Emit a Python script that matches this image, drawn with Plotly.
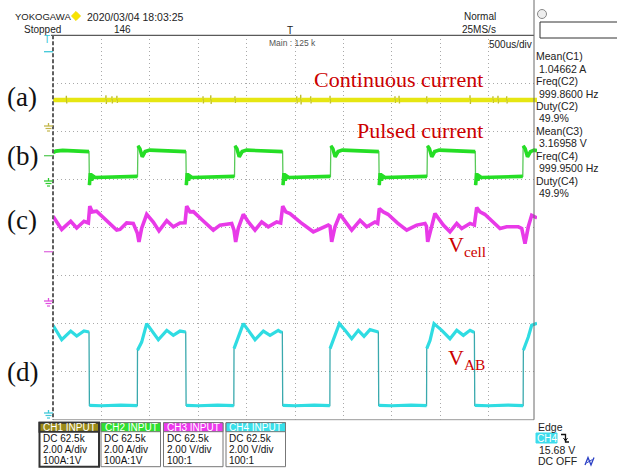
import plotly.graph_objects as go

W, H = 617, 469

# ---------------- acquisition / display settings ----------------
T_START_US, T_END_US = -2500, 2500      # 500 us/div, 10 divisions
TIME_PER_DIV_US = 500
V_DIVS = 8

CH_SCALE = [2.0, 2.0, 2.0, 2.0]                 # A/div, A/div, V/div, V/div
CH_GROUND_DIV = [2.13, 1.04, -1.45, -3.72]      # ground level, divisions from screen centre
CH_COLOR = ["#e6e612", "#25de25", "#e83ae8", "#2fdce2"]
CH_EDGE_COLOR = ["#bdbd30", "#58c958", "#e070e0", "#3aa9ad"]
CH_WIDTH = [4.5, 3.6, 3.6, 3.2]
CH_EDGE_JUMP_DIV = [0.05, 0.45, 0.45, 0.45]     # steps steeper than this are drawn thin

# ---------------- CH1: continuous current (A) ----------------
CH1_T = [-2500,
         -2365, -2362, -2358, -2355,
         -1956, -1953, -1949, -1946,
         -1894, -1891, -1887, -1884,
         -1843, -1840, -1836, -1833,
         -953, -950, -946, -943,
         -873, -870, -866, -863,
         -623, -620, -616, -613,
         15, 18, 22, 25,
         56, 59, 63, 66,
         159, 162, 166, 169,
         359, 362, 366, 369,
         1030, 1033, 1037, 1040,
         1072, 1075, 1079, 1082,
         1358, 1361, 1365, 1368,
         1805, 1808, 1812, 1815,
         2042, 2045, 2049, 2052,
         2094, 2097, 2101, 2104,
         2184, 2187, 2191, 2194,
         2500]
CH1_A = [1.05,
         1.05, 1.22, 0.9, 1.05,
         1.05, 1.24, 0.88, 1.05,
         1.05, 1.2, 0.9, 1.05,
         1.05, 1.22, 0.92, 1.05,
         1.05, 1.2, 0.9, 1.05,
         1.05, 1.24, 0.88, 1.05,
         1.05, 1.2, 0.92, 1.05,
         1.05, 1.2, 0.9, 1.05,
         1.05, 1.26, 0.86, 1.05,
         1.05, 1.2, 0.9, 1.05,
         1.05, 1.22, 0.9, 1.05,
         1.05, 1.2, 0.92, 1.05,
         1.05, 1.22, 0.9, 1.05,
         1.05, 1.2, 0.9, 1.05,
         1.05, 1.24, 0.88, 1.05,
         1.05, 1.2, 0.92, 1.05,
         1.05, 1.22, 0.9, 1.05,
         1.05, 1.2, 0.9, 1.05,
         1.05]

# ---------------- CH2: pulsed current (A) ----------------
CH2_T = [-2500, -2470, -2400, -2300, -2200, -2140, -2128, -2124, -2114, -2101, -2086, -2065,
         -1900, -1750, -1630, -1627,
         -1623, -1602, -1578, -1548, -1500, -1400, -1250, -1140, -1127, -1123, -1113, -1100,
         -1085, -1064, -900, -750, -628, -625,
         -621, -600, -576, -546, -500, -400, -250, -140, -128, -124, -114, -101, -86, -65,
         100, 250, 363, 366,
         370, 391, 415, 445, 490, 600, 750, 854, 866, 870, 880, 893, 908, 929,
         1100, 1250, 1361, 1364,
         1368, 1389, 1413, 1443, 1490, 1600, 1750, 1850, 1862, 1866, 1876, 1889, 1904, 1925,
         2100, 2250, 2350, 2353,
         2357, 2378, 2402, 2432, 2470, 2500]
CH2_A = [1.04, 1.1, 1.13, 1.11, 1.12, 1.08, 1.08, -0.32, 0.18, -0.12, 0.06, 0.0,
         0.01, 0.03, 0.05, 0.05,
         1.32, 1.2, 0.86, 1.08, 1.14, 1.12, 1.11, 1.09, 1.08, -0.32, 0.18, -0.12,
         0.06, 0.0, 0.01, 0.03, 0.05, 0.05,
         1.32, 1.2, 0.86, 1.08, 1.14, 1.12, 1.11, 1.09, 1.08, -0.32, 0.18, -0.12, 0.06, 0.0,
         0.01, 0.03, 0.05, 0.05,
         1.32, 1.2, 0.86, 1.08, 1.14, 1.12, 1.11, 1.09, 1.08, -0.32, 0.18, -0.12, 0.06, 0.0,
         0.01, 0.03, 0.05, 0.05,
         1.32, 1.2, 0.86, 1.08, 1.14, 1.12, 1.11, 1.09, 1.08, -0.32, 0.18, -0.12, 0.06, 0.0,
         0.01, 0.03, 0.05, 0.05,
         1.32, 1.2, 0.86, 1.08, 1.14, 1.12]

# ---------------- CH3: cell voltage (V) ----------------
CH3_T = [-2500, -2410, -2317, -2255, -2180, -2135, -2120, -2095, -2050, -1950, -1842, -1808,
         -1739, -1671, -1629, -1612, -1584, -1532, -1464, -1405, -1325, -1257, -1188, -1136,
         -1119, -1085, -1050, -950, -844, -775, -654, -630, -613, -586, -534, -482, -413,
         -344, -276, -189, -148, -127, -95, -52, 60, 189, 258, 344, 362, 379, 413, 465, 534,
         586, 672, 741, 826, 854, 871, 912, 960, 1060, 1154, 1257, 1343, 1358, 1371, 1412,
         1446, 1532, 1601, 1671, 1722, 1808, 1853, 1877, 1911, 1960, 2050, 2118, 2187, 2307,
         2342, 2376, 2410, 2445, 2500]
CH3_V = [3.37, 2.82, 3.16, 2.88, 3.16, 3.09, 3.79, 3.55, 3.58, 3.2, 2.79, 2.82,
         3.09, 3.07, 2.67, 2.3, 2.87, 3.45, 3.13, 2.76, 3.18, 2.93, 3.09, 3.1,
         3.79, 3.55, 3.56, 3.18, 2.79, 3.0, 3.07, 2.79, 2.3, 2.87, 3.45, 3.13, 2.79,
         3.13, 2.93, 3.13, 3.09, 3.79, 3.55, 3.48, 3.1, 2.72, 2.86, 3.0, 2.95, 2.3, 2.93, 3.45, 3.07,
         2.79, 3.2, 2.93, 3.13, 3.07, 3.69, 3.55, 3.45, 3.08, 2.79, 3.0, 3.07, 2.95, 2.3, 2.93,
         3.48, 3.0, 2.72, 3.07, 2.86, 3.07, 3.0, 3.73, 3.55, 3.45, 3.1, 2.86, 2.93, 2.93,
         2.86, 2.23, 2.93, 3.41, 3.3]

# ---------------- CH4: bridge output voltage V_AB (V) ----------------
CH4_T = [-2500, -2410, -2317, -2255, -2180, -2135, -2128, -2124, -2000, -1800, -1629,
         -1627, -1584, -1532, -1480, -1412, -1325, -1257, -1188, -1147, -1129, -1125, -1000,
         -800, -632, -630, -596, -534, -482, -413, -327, -258, -173, -148, -131, -127, 0,
         200, 360, 362, 396, 458, 517, 586, 654, 713, 775, 844, 861, 865, 1000, 1200, 1359,
         1361, 1395, 1436, 1516, 1601, 1671, 1739, 1808, 1842, 1853, 1857, 2000, 2200, 2357,
         2359, 2410, 2445, 2500]
CH4_V = [3.37, 2.77, 3.13, 2.92, 3.13, 3.09, 3.09, 0.04, 0.02, 0.05, 0.03,
         2.33, 2.67, 3.44, 3.16, 2.77, 3.16, 2.95, 3.13, 3.09, 3.09, 0.04, 0.02,
         0.05, 0.03, 2.4, 2.77, 3.44, 3.16, 2.77, 3.13, 2.95, 3.16, 3.09, 3.09, 0.04, 0.02,
         0.05, 0.03, 2.4, 2.74, 3.44, 3.16, 2.81, 3.16, 2.91, 3.19, 3.09, 3.09, 0.04, 0.02, 0.05, 0.03,
         2.4, 2.74, 3.44, 3.16, 2.81, 3.16, 2.95, 3.16, 3.09, 3.09, 0.04, 0.02, 0.05, 0.03,
         2.33, 2.88, 3.37, 3.45]

CHANNELS = [(CH1_T, CH1_A), (CH2_T, CH2_A), (CH3_T, CH3_V), (CH4_T, CH4_V)]

# ---------------- on-screen readouts ----------------
MEASURE_ITEMS = ["Mean(C1)", "1.04662 A", "Freq(C2)", "999.8600 Hz", "Duty(C2)", "49.9%",
                 "Mean(C3)", "3.16958 V", "Freq(C4)", "999.9500 Hz", "Duty(C4)", "49.9%"]
CH_BOX_TITLES = ["CH1 INPUT", "CH2 INPUT", "CH3 INPUT", "CH4 INPUT"]
CH_BOX_LINES = [["DC 62.5k", "2.00 A/div", "100A:1V"],
                ["DC 62.5k", "2.00 A/div", "100A:1V"],
                ["DC 62.5k", "2.00 V/div", "100:1"],
                ["DC 62.5k", "2.00 V/div", "100:1"]]
CH_BOX_HEAD = ["#9a8a18", "#2fe02f", "#ec38ec", "#38e0ea"]
PANEL_LABELS = ["(a)", "(b)", "(c)", "(d)"]


# ---------------- helpers (pixel -> paper coordinates) ----------------
def px(x):
    return x / W


def py(y):
    return 1 - y / H


def split_edges(t, v, scale, jump_div, max_dt=12):
    """Break the polyline at fast vertical steps so they can be drawn thin."""
    xs, ys = [t[0]], [v[0]]
    for i in range(1, len(t)):
        if abs(v[i] - v[i - 1]) / scale > jump_div and (t[i] - t[i - 1]) <= max_dt:
            xs.append(None)
            ys.append(None)
        xs.append(t[i])
        ys.append(v[i])
    return xs, ys


fig = go.Figure()

GRID_L, GRID_R, GRID_T, GRID_B = 53, 537, 35.3, 419.7
AXIS_IDS = ["y", "y2", "y3", "y4"]

for i, (t, v) in enumerate(CHANNELS):
    fig.add_trace(go.Scatter(x=t, y=v, mode="lines", yaxis=AXIS_IDS[i], hoverinfo="skip",
                             line=dict(color=CH_EDGE_COLOR[i], width=1.3), showlegend=False))
    xs, ys = split_edges(t, v, CH_SCALE[i], CH_EDGE_JUMP_DIV[i])
    fig.add_trace(go.Scatter(x=xs, y=ys, mode="lines", yaxis=AXIS_IDS[i], hoverinfo="skip",
                             connectgaps=False,
                             line=dict(color=CH_COLOR[i], width=CH_WIDTH[i]), showlegend=False))

xdom = [px(GRID_L), px(GRID_R)]
ydom = [py(GRID_B), py(GRID_T)]


def ch_range(i):
    s, g = CH_SCALE[i], CH_GROUND_DIV[i]
    return [(-V_DIVS / 2 - g) * s, (V_DIVS / 2 - g) * s]


layout = dict(
    width=W, height=H, margin=dict(l=0, r=0, t=0, b=0),
    paper_bgcolor="white", plot_bgcolor="white", showlegend=False,
    xaxis=dict(domain=xdom, range=[T_START_US, T_END_US], tick0=T_START_US, dtick=TIME_PER_DIV_US,
               showgrid=True, gridcolor="#a9a9a9", griddash="1px,3px", gridwidth=1,
               zeroline=False, showticklabels=False, ticks="", showline=False, fixedrange=True),
    # CH1 axis also carries the division grid
    yaxis=dict(domain=ydom, range=ch_range(0), tick0=ch_range(0)[0], dtick=CH_SCALE[0],
               showgrid=True, gridcolor="#a9a9a9", griddash="1px,3px", gridwidth=1,
               zeroline=False, showticklabels=False, ticks="", showline=False, fixedrange=True),
)
for i in range(1, 4):
    layout["yaxis%d" % (i + 1)] = dict(domain=ydom, overlaying="y", anchor="x", visible=False,
                                        showgrid=False, zeroline=False,
                                        range=ch_range(i), fixedrange=True)
fig.update_layout(**layout)

shapes = []
annotations = []


def line(x0, y0, x1, y1, color="#666", width=1, dash=None):
    d = dict(type="line", xref="paper", yref="paper", x0=px(x0), y0=py(y0), x1=px(x1), y1=py(y1),
             line=dict(color=color, width=width))
    if dash:
        d["line"]["dash"] = dash
    shapes.append(d)


def rect(x0, y0, x1, y1, fill="white", color="#555", width=1):
    shapes.append(dict(type="rect", xref="paper", yref="paper", x0=px(x0), y0=py(y1), x1=px(x1),
                       y1=py(y0), fillcolor=fill, line=dict(color=color, width=width)))


def path(points, color, width=1, fill=None, close=False):
    p = "M " + " L ".join("%f,%f" % (px(a), py(b)) for a, b in points)
    if close:
        p += " Z"
    shapes.append(dict(type="path", xref="paper", yref="paper", path=p,
                       fillcolor=fill if fill else "rgba(0,0,0,0)",
                       line=dict(color=color, width=width)))


def text(s, x, y, size=10, color="#1a1a1a", family="Liberation Sans", xanchor="left",
         yanchor="middle", bg=None):
    a = dict(text=s, x=px(x), y=py(y), xref="paper", yref="paper", showarrow=False,
             xanchor=xanchor, yanchor=yanchor, font=dict(size=size, color=color, family=family),
             borderpad=0)
    if bg:
        a["bgcolor"] = bg
    annotations.append(a)


# screen frame
line(51, GRID_T, 534, GRID_T, "#5a5a5a", 1.2)
line(GRID_L, GRID_B, 534, GRID_B, "#9a9a9a", 1)
line(GRID_L, GRID_T, GRID_L, GRID_B, "#5f5f5f", 2, "4px,2px")
line(534, 0, 534, GRID_B, "#6a6a6a", 1)


# left-edge channel markers (ground symbols and level marks)
def ground(y, color):
    line(44, y, 53, y, color, 1.3)
    line(48.5, y - 3, 48.5, y, color, 1.3)
    line(45.5, y + 2.5, 51.5, y + 2.5, color, 1.2)
    line(47, y + 5, 50, y + 5, color, 1.2)


ground(126, "#c3b64a")
ground(181, "#30cc30")
ground(301, "#e050e0")
ground(413, "#40c8d8")
line(44, 155.7, 53, 155.7, "#5ccc5c", 1.3)
line(44, 251.7, 53, 251.7, "#e070e0", 1.3)
line(44, 51.7, 53, 51.7, "#40c8d8", 1.3)
text("T", 47, 39.5, 10, "#33c6d8", xanchor="center")

# header
text("YOKOGAWA", 14, 16.5, 9.5, "#222")
path([(76, 11.5), (80.5, 16), (76, 20.5), (71.5, 16)], "#f2dc00", 1, "#f8e400", close=True)
text("2020/03/04 18:03:25", 86, 16.5, 10.5, "#222")
text("Stopped", 23, 29, 10, "#222")
text("146", 113, 29, 10, "#222")
text("T", 290, 30.5, 10, "#222", xanchor="center")
text("Main : 125 k", 268, 43, 8.5, "#555")
text("Normal", 497, 16.5, 10, "#222", xanchor="right")
text("25MS/s", 497, 29, 10, "#222", xanchor="right")
text("500us/div", 533, 44, 10, "#222", xanchor="right")

# right-hand panel
shapes.append(dict(type="circle", xref="paper", yref="paper", x0=px(537.5), x1=px(546.5),
                   y0=py(18.5), y1=py(9.5), fillcolor="#eeeeee", line=dict(color="#888", width=1)))
rect(540, 22, 618, 38, "white", "#333", 1)
for k, s in enumerate(MEASURE_ITEMS):
    x = 535 if k % 2 == 0 else 538
    text(s, x, 56.5 + 12.4 * k, 10.5, "#222")

# annotation labels on the traces
for s, y in zip(PANEL_LABELS, [97, 156, 220, 372]):
    text(s, 22, y, 27, "#111", "Liberation Serif", xanchor="center")
RED = "#cc0000"
text("Continuous current", 484, 79, 22, RED, "Liberation Serif", xanchor="right")
text("Pulsed current", 484, 130, 22, RED, "Liberation Serif", xanchor="right")
text("V<sub>cell</sub>", 447, 246, 22, RED, "Liberation Serif")
text("V<sub>AB</sub>", 447, 359, 22, RED, "Liberation Serif")

# channel setting boxes
BOX_X = [39.5, 101, 163.5, 226]
for i in range(4):
    x0 = BOX_X[i]
    x1 = x0 + 59.5
    rect(x0, 422.7, x1, 466.7, "white", "#333" if i == 0 else "#777", 2 if i == 0 else 1)
    rect(x0, 422.7, x1, 431.7, CH_BOX_HEAD[i], "#333" if i == 0 else "#777", 2 if i == 0 else 1)
    text(CH_BOX_TITLES[i], x0 + 2.5, 427.3, 10, "white")
    for j, s in enumerate(CH_BOX_LINES[i]):
        text(s, x0 + 2, 438.8 + 10.8 * j, 10, "#111")

# trigger readout
text("Edge", 537, 427, 10.5, "#222")
rect(536, 433, 557, 443, "#3cdcec", "#3cdcec", 1)
text("CH4", 546.5, 438, 10, "white", xanchor="center")
path([(561, 434.5), (565.5, 434.5), (565.5, 442), (569, 442)], "#111", 1.3)
path([(563.5, 438), (565.5, 441), (567.5, 438)], "#111", 1)
text("15.68 V", 538, 449.5, 10.5, "#222")
text("DC OFF", 537, 461, 10.5, "#222")
path([(585, 465), (588, 457.5), (591, 465), (594, 457.5)], "#2a3fc4", 1.3)
path([(586.5, 463), (592.5, 459.5)], "#2a3fc4", 1)

fig.update_layout(shapes=shapes, annotations=annotations)
fig.write_html("out.html", config={"displayModeBar": False})
